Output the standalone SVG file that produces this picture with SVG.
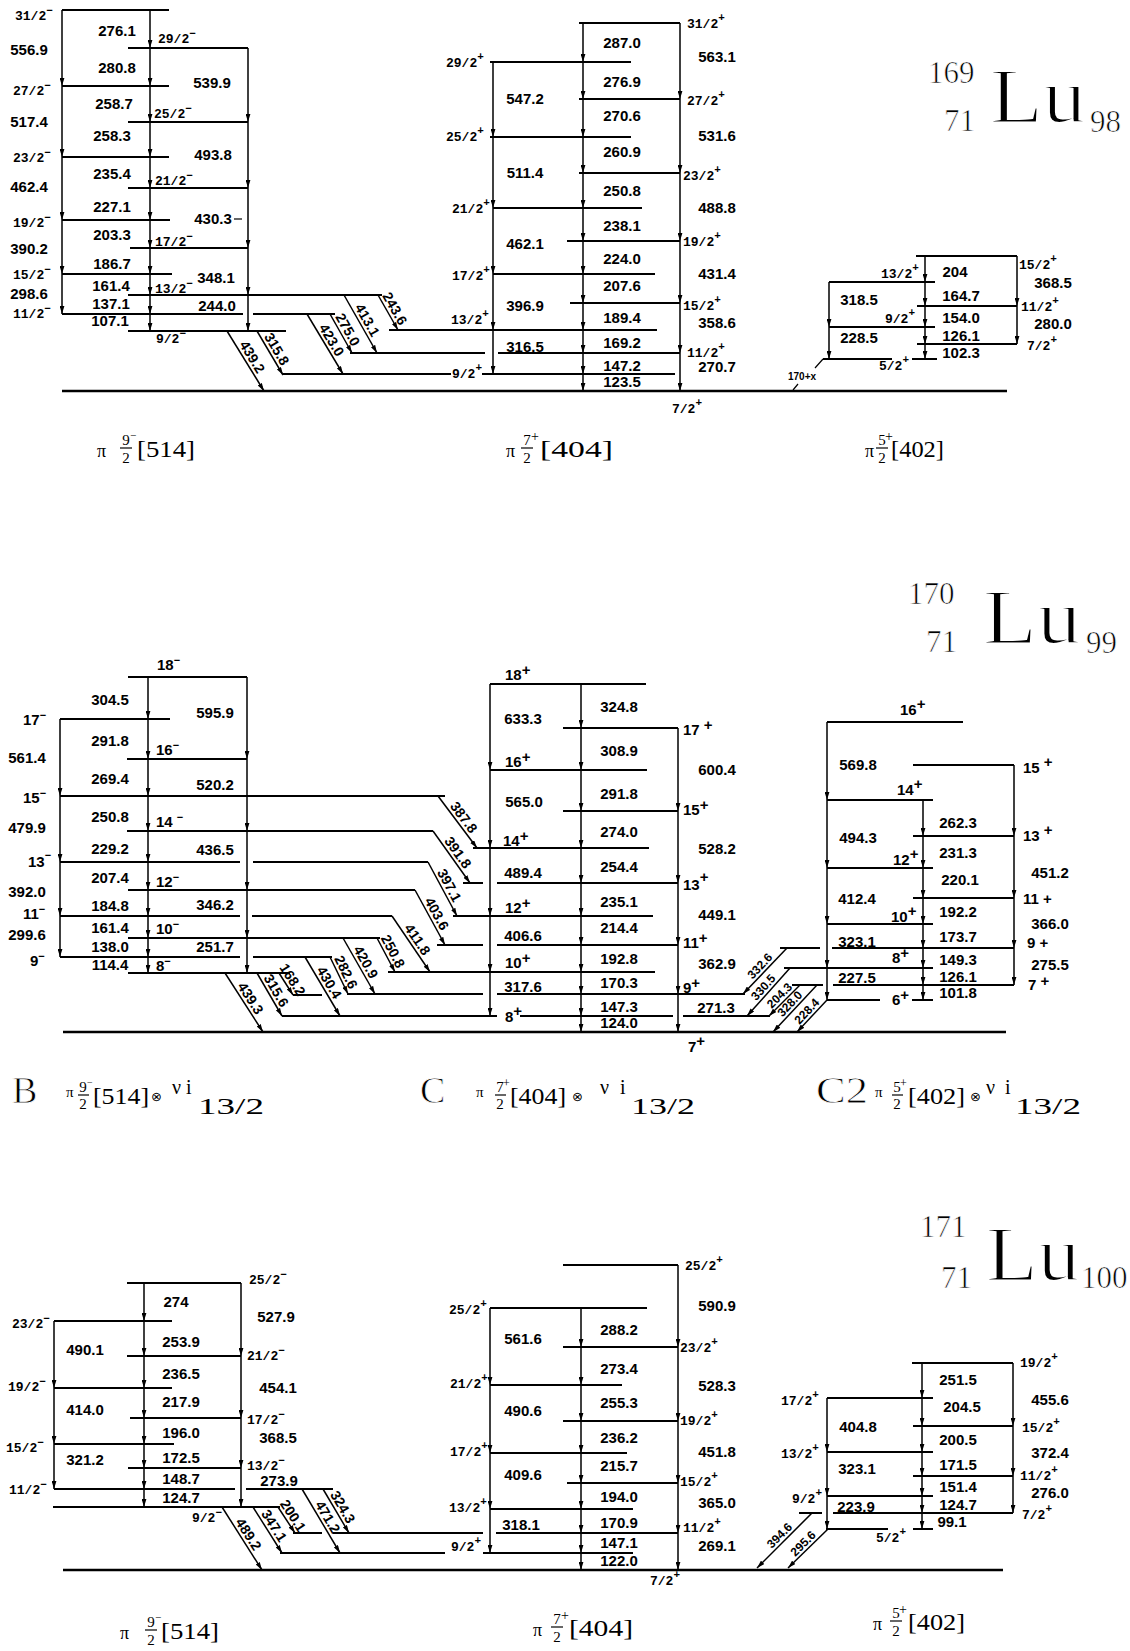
<svg xmlns="http://www.w3.org/2000/svg" width="1130" height="1651" viewBox="0 0 1130 1651">
<defs>
<marker id="ah" viewBox="0 0 10 6" refX="10" refY="3" markerUnits="userSpaceOnUse" markerWidth="8" markerHeight="5" orient="auto"><path d="M0 0L10 3L0 6z" fill="#000"/></marker>
<style>
.l{stroke:#000;stroke-width:2;fill:none}
.g{stroke:#000;stroke-width:2.4;fill:none}
.th{stroke:#000;stroke-width:1.2;fill:none}
.t{stroke:#000;stroke-width:1.5;fill:none;marker-mid:url(#ah);marker-end:url(#ah)}
.d{stroke:#000;stroke-width:1.5;fill:none;marker-end:url(#ah)}
text{font-family:"Liberation Sans",Arial,sans-serif;fill:#000}
.e{font-size:15px;font-weight:bold;text-anchor:middle}
.dl{font-size:14px;font-weight:bold;text-anchor:middle}
.ds{font-size:12px;font-weight:bold;text-anchor:middle}
.s{font-family:"Liberation Mono","Courier New",monospace;font-size:13px;font-weight:bold}
.m{font-size:15px;font-weight:bold}
.sp{font-size:11px}
.sr{font-family:"Liberation Serif","Times New Roman",serif}
.big{font-family:"Liberation Serif",serif;font-size:38px;stroke:#fff;stroke-width:0.8}
.nu{font-family:"Liberation Serif",serif;font-size:31px;stroke:#fff;stroke-width:0.7}
.lu{font-family:"Liberation Serif",serif;font-size:78px;stroke:#fff;stroke-width:1.8}
.fr{font-family:"Liberation Serif",serif;font-size:15px;text-anchor:middle}
.br{font-family:"Liberation Serif",serif;font-size:23px}
.ot{font-family:"DejaVu Sans",sans-serif;font-size:13px}
</style>
</defs>
<rect width="1130" height="1651" fill="#fff"/>

<!-- ===================== 169Lu ===================== -->
<g id="b169">
<path class="l" d="M62 10H169M128 48H248M62 86H169M128 122H248M62 157H169M128 188H248M62 220H170M130 248H248M62 274H172M128 295H382M62 314H243M253 314H335M128 331H286"/>
<text class="s" x="15" y="20">31/2<tspan class="sp" dy="-6">−</tspan></text>
<text class="s" x="158" y="43">29/2<tspan class="sp" dy="-6">−</tspan></text>
<text class="s" x="13" y="95">27/2<tspan class="sp" dy="-6">−</tspan></text>
<text class="s" x="154" y="118">25/2<tspan class="sp" dy="-6">−</tspan></text>
<text class="s" x="13" y="162">23/2<tspan class="sp" dy="-6">−</tspan></text>
<text class="s" x="155" y="185">21/2<tspan class="sp" dy="-6">−</tspan></text>
<text class="s" x="13" y="227">19/2<tspan class="sp" dy="-6">−</tspan></text>
<text class="s" x="155" y="246">17/2<tspan class="sp" dy="-6">−</tspan></text>
<text class="s" x="13" y="279">15/2<tspan class="sp" dy="-6">−</tspan></text>
<text class="s" x="155" y="293">13/2<tspan class="sp" dy="-6">−</tspan></text>
<text class="s" x="13" y="318">11/2<tspan class="sp" dy="-6">−</tspan></text>
<text class="s" x="156" y="343">9/2<tspan class="sp" dy="-6">−</tspan></text>
<text class="sr" x="97" y="457" font-size="18">π</text>
<text class="fr" x="126" y="445">9</text><path class="th" d="M120 448H132"/><text class="fr" x="126" y="463">2</text>
<text class="sr" x="130" y="439" font-size="11">−</text>
<text class="br" x="137" y="457" textLength="58" lengthAdjust="spacingAndGlyphs">[514]</text>
</g>

<g id="c169">
<path class="l" d="M579 23H680M490 62H631M579 99H680M490 137H631M579 173H680M493 208H642M567 241H680M493 274H655M570 303H680M389 330H657M350 353H485M498 353H680M283 374H451M482 374H675"/>
<path class="g" d="M62 391H1007"/>
<text class="s" x="687" y="28">31/2<tspan class="sp" dy="-7">+</tspan></text>
<text class="s" x="446" y="67">29/2<tspan class="sp" dy="-7">+</tspan></text>
<text class="s" x="687" y="105">27/2<tspan class="sp" dy="-7">+</tspan></text>
<text class="s" x="446" y="141">25/2<tspan class="sp" dy="-7">+</tspan></text>
<text class="s" x="683" y="180">23/2<tspan class="sp" dy="-7">+</tspan></text>
<text class="s" x="452" y="213">21/2<tspan class="sp" dy="-7">+</tspan></text>
<text class="s" x="683" y="246">19/2<tspan class="sp" dy="-7">+</tspan></text>
<text class="s" x="452" y="280">17/2<tspan class="sp" dy="-7">+</tspan></text>
<text class="s" x="683" y="310">15/2<tspan class="sp" dy="-7">+</tspan></text>
<text class="s" x="451" y="324">13/2<tspan class="sp" dy="-7">+</tspan></text>
<text class="s" x="687" y="357">11/2<tspan class="sp" dy="-7">+</tspan></text>
<text class="s" x="452" y="378">9/2<tspan class="sp" dy="-7">+</tspan></text>
<text class="s" x="672" y="413">7/2<tspan class="sp" dy="-7">+</tspan></text>
<text class="sr" x="506" y="457" font-size="18">π</text>
<text class="fr" x="527" y="445">7</text><path class="th" d="M521 448H533"/><text class="fr" x="527" y="463">2</text>
<text class="sr" x="531" y="441" font-size="14">+</text>
<text class="br" x="540" y="457" textLength="73" lengthAdjust="spacingAndGlyphs">[404]</text>
</g>

<g id="c169-402">
<path class="l" d="M916 256H1017M829 282H935M917 306H1017M829 327H935M917 344H1017M823 359H892M912 359H937"/>
<path class="th" d="M823 359L815 368M793 390L798 384"/>
<text class="s" x="1019" y="269">15/2<tspan class="sp" dy="-7">+</tspan></text>
<text class="s" x="881" y="278">13/2<tspan class="sp" dy="-7">+</tspan></text>
<text class="s" x="1021" y="311">11/2<tspan class="sp" dy="-7">+</tspan></text>
<text class="s" x="885" y="323">9/2<tspan class="sp" dy="-7">+</tspan></text>
<text class="s" x="1027" y="350">7/2<tspan class="sp" dy="-7">+</tspan></text>
<text class="s" x="879" y="370">5/2<tspan class="sp" dy="-7">+</tspan></text>
<text x="788" y="380" font-size="10" font-weight="bold">170+x</text>
<text class="sr" x="865" y="457" font-size="18">π</text>
<text class="fr" x="882" y="445">5</text><path class="th" d="M876 448H888"/><text class="fr" x="882" y="463">2</text>
<text class="sr" x="885" y="441" font-size="14">+</text>
<text class="br" x="891" y="457" textLength="53" lengthAdjust="spacingAndGlyphs">[402]</text>
</g>

<g id="n169">
<text class="nu" x="928" y="83">169</text>
<text class="nu" x="944" y="131">71</text>
<text class="lu" x="990" y="122" textLength="96" lengthAdjust="spacingAndGlyphs">Lu</text>
<text class="nu" x="1090" y="132">98</text>
</g>

<!-- ===================== 170Lu ===================== -->
<g id="b170">
<path class="l" d="M128 677H247M60 719H170M127 759H247M60 796H445M127 831H433M60 862H240M253 862H428M128 890H415M60 916H240M252 916H392M128 938H380M60 957H240M253 957H332M128 973H290"/>
<text class="m" x="157" y="670">18<tspan class="sp" dy="-6">−</tspan></text>
<text class="m" x="23" y="725">17<tspan class="sp" dy="-6">−</tspan></text>
<text class="m" x="156" y="755">16<tspan class="sp" dy="-6">−</tspan></text>
<text class="m" x="23" y="803">15<tspan class="sp" dy="-6">−</tspan></text>
<text class="m" x="156" y="827">14 <tspan class="sp" dy="-6">−</tspan></text>
<text class="m" x="28" y="867">13<tspan class="sp" dy="-8">−</tspan></text>
<text class="m" x="156" y="887">12<tspan class="sp" dy="-6">−</tspan></text>
<text class="m" x="23" y="919">11<tspan class="sp" dy="-6">−</tspan></text>
<text class="m" x="156" y="934">10<tspan class="sp" dy="-6">−</tspan></text>
<text class="m" x="30" y="966">9<tspan class="sp" dy="-6">−</tspan></text>
<text class="m" x="156" y="971">8<tspan class="sp" dy="-6">−</tspan></text>
</g>

<g id="c170">
<path class="l" d="M490 684H646M563 728H678M490 770H647M563 811H678M473 848H649M463 883H483M497 883H678M453 916H653M437 945H483M497 945H678M388 972H655M293 995H322M347 994H483M497 994H745M282 1016H497M520 1016H673M683 1016H770"/>
<path class="g" d="M63 1032H1006"/>
<text class="m" x="505" y="680">18<tspan dy="-5">+</tspan></text>
<text class="m" x="683" y="735">17 <tspan dy="-5">+</tspan></text>
<text class="m" x="505" y="767">16<tspan dy="-5">+</tspan></text>
<text class="m" x="683" y="815">15<tspan dy="-5">+</tspan></text>
<text class="m" x="503" y="846">14<tspan dy="-5">+</tspan></text>
<text class="m" x="683" y="890">13<tspan dy="-8">+</tspan></text>
<text class="m" x="505" y="913">12<tspan dy="-5">+</tspan></text>
<text class="m" x="683" y="948">11<tspan dy="-5">+</tspan></text>
<text class="m" x="505" y="968">10<tspan dy="-5">+</tspan></text>
<text class="m" x="683" y="993">9<tspan dy="-5">+</tspan></text>
<text class="m" x="505" y="1022">8<tspan dy="-6">+</tspan></text>
<text class="m" x="688" y="1052">7<tspan dy="-6">+</tspan></text>
</g>

<g id="c2-170">
<path class="l" d="M827 722H963M913 765H1014M827 800H933M913 836H1014M827 868H933M913 898H1014M827 924H933M780 948H820M832 948H1014M784 968H933M792 985H823M833 985H1014M827 1000H880M912 1000H933"/>
<text class="m" x="900" y="715">16<tspan dy="-6">+</tspan></text>
<text class="m" x="1023" y="773">15 <tspan dy="-6">+</tspan></text>
<text class="m" x="897" y="795">14<tspan dy="-6">+</tspan></text>
<text class="m" x="1023" y="841">13 <tspan dy="-6">+</tspan></text>
<text class="m" x="893" y="865">12<tspan dy="-6">+</tspan></text>
<text class="m" x="1023" y="904">11 +</text>
<text class="m" x="891" y="922">10<tspan dy="-6">+</tspan></text>
<text class="m" x="1027" y="948">9 +</text>
<text class="m" x="892" y="963">8<tspan dy="-5">+</tspan></text>
<text class="m" x="1028" y="990">7 <tspan dy="-4">+</tspan></text>
<text class="m" x="892" y="1005">6<tspan dy="-5">+</tspan></text>
</g>

<g id="n170">
<text class="nu" x="908" y="604">170</text>
<text class="nu" x="926" y="652">71</text>
<text class="lu" x="983" y="643" textLength="98" lengthAdjust="spacingAndGlyphs">Lu</text>
<text class="nu" x="1086" y="653">99</text>
</g>

<g id="labels170">
<text class="big" x="12" y="1103">B</text>
<text class="sr" x="66" y="1097" font-size="15">π</text>
<text class="fr" x="83" y="1092" font-size="13">9</text><path class="th" d="M78 1095H89"/><text class="fr" x="83" y="1109" font-size="13">2</text>
<text class="sr" x="87" y="1086" font-size="10">−</text>
<text class="br" x="93" y="1104" font-size="20" textLength="56" lengthAdjust="spacingAndGlyphs">[514]</text>
<text class="ot" x="151" y="1101">⊗</text>
<text class="sr" x="172" y="1094" font-size="20">ν</text>
<text class="sr" x="186" y="1094" font-size="20">i</text>
<text class="sr" x="198" y="1114" font-size="24" textLength="66" lengthAdjust="spacingAndGlyphs">13/2</text>

<text class="big" x="420" y="1103">C</text>
<text class="sr" x="476" y="1097" font-size="15">π</text>
<text class="fr" x="500" y="1092" font-size="13">7</text><path class="th" d="M495 1095H506"/><text class="fr" x="500" y="1109" font-size="13">2</text>
<text class="sr" x="503" y="1087" font-size="12">+</text>
<text class="br" x="510" y="1104" font-size="20" textLength="56" lengthAdjust="spacingAndGlyphs">[404]</text>
<text class="ot" x="572" y="1101">⊗</text>
<text class="sr" x="600" y="1094" font-size="20">ν</text>
<text class="sr" x="620" y="1094" font-size="20">i</text>
<text class="sr" x="631" y="1114" font-size="24" textLength="64" lengthAdjust="spacingAndGlyphs">13/2</text>

<text class="big" x="816" y="1103" textLength="52" lengthAdjust="spacingAndGlyphs">C2</text>
<text class="sr" x="875" y="1097" font-size="15">π</text>
<text class="fr" x="897" y="1092" font-size="13">5</text><path class="th" d="M892 1095H903"/><text class="fr" x="897" y="1109" font-size="13">2</text>
<text class="sr" x="900" y="1087" font-size="12">+</text>
<text class="br" x="908" y="1104" font-size="20" textLength="57" lengthAdjust="spacingAndGlyphs">[402]</text>
<text class="ot" x="970" y="1101">⊗</text>
<text class="sr" x="986" y="1094" font-size="20">ν</text>
<text class="sr" x="1005" y="1094" font-size="20">i</text>
<text class="sr" x="1015" y="1114" font-size="24" textLength="66" lengthAdjust="spacingAndGlyphs">13/2</text>
</g>

<!-- ===================== 171Lu ===================== -->
<g id="b171">
<path class="l" d="M127 1283H241M54 1321H172M127 1356H241M54 1388H172M130 1418H241M54 1444H174M128 1468H241M54 1489H235M246 1489H333M53 1507H280"/>
<text class="s" x="249" y="1284">25/2<tspan class="sp" dy="-6">−</tspan></text>
<text class="s" x="12" y="1328">23/2<tspan class="sp" dy="-6">−</tspan></text>
<text class="s" x="247" y="1360">21/2<tspan class="sp" dy="-6">−</tspan></text>
<text class="s" x="8" y="1391">19/2<tspan class="sp" dy="-6">−</tspan></text>
<text class="s" x="247" y="1424">17/2<tspan class="sp" dy="-6">−</tspan></text>
<text class="s" x="6" y="1452">15/2<tspan class="sp" dy="-6">−</tspan></text>
<text class="s" x="247" y="1470">13/2<tspan class="sp" dy="-6">−</tspan></text>
<text class="s" x="9" y="1494">11/2<tspan class="sp" dy="-6">−</tspan></text>
<text class="s" x="192" y="1522">9/2<tspan class="sp" dy="-6">−</tspan></text>
<text class="sr" x="120" y="1639" font-size="18">π</text>
<text class="fr" x="151" y="1627">9</text><path class="th" d="M145 1630H157"/><text class="fr" x="151" y="1645">2</text>
<text class="sr" x="155" y="1621" font-size="11">−</text>
<text class="br" x="161" y="1639" textLength="58" lengthAdjust="spacingAndGlyphs">[514]</text>
</g>

<g id="c171">
<path class="l" d="M563 1265H678M490 1308H647M563 1347H678M490 1385H622M563 1421H678M490 1453H627M567 1483H678M490 1509H633M293 1533H322M333 1533H483M496 1533H678M280 1553H445M483 1553H633"/>
<path class="g" d="M63 1570H1003"/>
<text class="s" x="685" y="1270">25/2<tspan class="sp" dy="-7">+</tspan></text>
<text class="s" x="449" y="1314">25/2<tspan class="sp" dy="-7">+</tspan></text>
<text class="s" x="680" y="1352">23/2<tspan class="sp" dy="-7">+</tspan></text>
<text class="s" x="450" y="1388">21/2<tspan class="sp" dy="-7">+</tspan></text>
<text class="s" x="680" y="1425">19/2<tspan class="sp" dy="-7">+</tspan></text>
<text class="s" x="450" y="1456">17/2<tspan class="sp" dy="-7">+</tspan></text>
<text class="s" x="680" y="1486">15/2<tspan class="sp" dy="-7">+</tspan></text>
<text class="s" x="449" y="1512">13/2<tspan class="sp" dy="-7">+</tspan></text>
<text class="s" x="683" y="1532">11/2<tspan class="sp" dy="-7">+</tspan></text>
<text class="s" x="451" y="1551">9/2<tspan class="sp" dy="-7">+</tspan></text>
<text class="s" x="650" y="1585">7/2<tspan class="sp" dy="-7">+</tspan></text>
<text class="sr" x="533" y="1636" font-size="18">π</text>
<text class="fr" x="557" y="1624">7</text><path class="th" d="M551 1627H563"/><text class="fr" x="557" y="1642">2</text>
<text class="sr" x="561" y="1620" font-size="14">+</text>
<text class="br" x="569" y="1636" textLength="64" lengthAdjust="spacingAndGlyphs">[404]</text>
</g>

<g id="c2-171">
<path class="l" d="M912 1363H1013M827 1398H933M913 1426H1013M827 1452H933M913 1476H1013M827 1496H933M799 1513H822M833 1513H1013M826 1529H888M913 1529H933"/>
<text class="s" x="1020" y="1367">19/2<tspan class="sp" dy="-7">+</tspan></text>
<text class="s" x="781" y="1405">17/2<tspan class="sp" dy="-7">+</tspan></text>
<text class="s" x="1022" y="1432">15/2<tspan class="sp" dy="-7">+</tspan></text>
<text class="s" x="781" y="1458">13/2<tspan class="sp" dy="-7">+</tspan></text>
<text class="s" x="1020" y="1480">11/2<tspan class="sp" dy="-7">+</tspan></text>
<text class="s" x="792" y="1503">9/2<tspan class="sp" dy="-7">+</tspan></text>
<text class="s" x="1022" y="1519">7/2<tspan class="sp" dy="-7">+</tspan></text>
<text class="s" x="876" y="1542">5/2<tspan class="sp" dy="-7">+</tspan></text>
<text class="sr" x="873" y="1630" font-size="18">π</text>
<text class="fr" x="896" y="1618">5</text><path class="th" d="M890 1621H902"/><text class="fr" x="896" y="1636">2</text>
<text class="sr" x="899" y="1614" font-size="14">+</text>
<text class="br" x="908" y="1630" textLength="57" lengthAdjust="spacingAndGlyphs">[402]</text>
</g>

<g id="n171">
<text class="nu" x="920" y="1237">171</text>
<text class="nu" x="941" y="1288">71</text>
<text class="lu" x="986" y="1280" textLength="94" lengthAdjust="spacingAndGlyphs">Lu</text>
<text class="nu" x="1081" y="1288">100</text>
</g>

<!-- ===================== connectors ===================== -->
<g id="connectors">
<!-- 169 -->
<path class="t" d="M62 10V86V157V220V274V314"/>
<path class="t" d="M150 10V48V86V122V157V188V220V248V274V295V314V331"/>
<path class="t" d="M248 48V122V188V248V295V331"/>
<path class="t" d="M493 62V137V208V274V330V374"/>
<path class="t" d="M583 23V62V99V137V173V208V241V274V303V330V353V374V391"/>
<path class="t" d="M680 23V99V173V241V303V353V391"/>
<path class="t" d="M829 282V327V359"/>
<path class="t" d="M925 256V282V306V327V344V359"/>
<path class="t" d="M1017 256V306V344"/>
<path class="d" d="M227 331L264 391"/>
<path class="d" d="M257 331L283 375"/>
<path class="d" d="M307 314L343 374"/>
<path class="d" d="M330 314L352 353"/>
<path class="d" d="M344 295L377 353"/>
<path class="d" d="M378 295L398 330"/>
<path class="th" d="M234 219H242"/>
<!-- 170 -->
<path class="t" d="M60 719V796V862V916V957"/>
<path class="t" d="M148 677V719V759V796V831V862V890V916V938V957V973"/>
<path class="t" d="M247 677V759V831V890V938V973"/>
<path class="t" d="M490 684V770V848V916V972V1016"/>
<path class="t" d="M581 684V728V770V811V848V883V916V945V972V994V1016V1032"/>
<path class="t" d="M678 728V811V883V945V994V1032"/>
<path class="t" d="M827 722V800V868V924V968V1000"/>
<path class="t" d="M923 800V836V868V898V924V948V968V985V1000"/>
<path class="t" d="M1014 765V836V898V948V985"/>
<path class="d" d="M438 796L477 848"/>
<path class="d" d="M433 831L470 883"/>
<path class="d" d="M428 862L457 916"/>
<path class="d" d="M415 890L445 945"/>
<path class="d" d="M392 916L430 972"/>
<path class="d" d="M377 938L395 972"/>
<path class="d" d="M343 938L375 994"/>
<path class="d" d="M330 957L348 994"/>
<path class="d" d="M305 957L340 1016"/>
<path class="d" d="M279 973L293 995"/>
<path class="d" d="M257 973L282 1016"/>
<path class="d" d="M225 973L263 1032"/>
<path class="d" d="M787 948L743 994"/>
<path class="d" d="M790 968L747 1016"/>
<path class="d" d="M800 985L769 1016"/>
<path class="d" d="M817 985L773 1032"/>
<path class="d" d="M827 1000L797 1032"/>
<!-- 171 -->
<path class="t" d="M54 1321V1388V1444V1489"/>
<path class="t" d="M144 1283V1321V1356V1388V1418V1444V1468V1489V1507"/>
<path class="t" d="M241 1283V1356V1418V1468V1507"/>
<path class="t" d="M490 1308V1385V1453V1509V1553"/>
<path class="t" d="M581 1308V1347V1385V1421V1453V1483V1509V1533V1553V1570"/>
<path class="t" d="M678 1265V1347V1421V1483V1533V1570"/>
<path class="t" d="M827 1398V1452V1496V1529"/>
<path class="t" d="M922 1363V1398V1426V1452V1476V1496V1513V1529"/>
<path class="t" d="M1013 1363V1426V1476V1513"/>
<path class="d" d="M323 1489L349 1533"/>
<path class="d" d="M302 1489L340 1553"/>
<path class="d" d="M278 1507L295 1533"/>
<path class="d" d="M253 1507L282 1553"/>
<path class="d" d="M222 1507L262 1570"/>
<path class="d" d="M812 1513L757 1568"/>
<path class="d" d="M828 1529L788 1568"/>
</g>

<g id="energies">
<!-- 169 B -->
<text class="e" x="29" y="55">556.9</text><text class="e" x="29" y="127">517.4</text><text class="e" x="29" y="192">462.4</text><text class="e" x="29" y="254">390.2</text><text class="e" x="29" y="299">298.6</text>
<text class="e" x="117" y="36">276.1</text><text class="e" x="117" y="73">280.8</text><text class="e" x="114" y="109">258.7</text><text class="e" x="112" y="141">258.3</text><text class="e" x="112" y="179">235.4</text><text class="e" x="112" y="212">227.1</text><text class="e" x="112" y="240">203.3</text><text class="e" x="112" y="269">186.7</text><text class="e" x="111" y="291">161.4</text><text class="e" x="111" y="309">137.1</text><text class="e" x="110" y="326">107.1</text>
<text class="e" x="212" y="88">539.9</text><text class="e" x="213" y="160">493.8</text><text class="e" x="213" y="224">430.3</text><text class="e" x="216" y="283">348.1</text><text class="e" x="217" y="311">244.0</text>
<!-- 169 C -->
<text class="e" x="622" y="48">287.0</text><text class="e" x="622" y="87">276.9</text><text class="e" x="622" y="121">270.6</text><text class="e" x="622" y="157">260.9</text><text class="e" x="622" y="196">250.8</text><text class="e" x="622" y="231">238.1</text><text class="e" x="622" y="264">224.0</text><text class="e" x="622" y="291">207.6</text><text class="e" x="622" y="323">189.4</text><text class="e" x="622" y="348">169.2</text><text class="e" x="622" y="371">147.2</text><text class="e" x="622" y="387">123.5</text>
<text class="e" x="525" y="104">547.2</text><text class="e" x="525" y="178">511.4</text><text class="e" x="525" y="249">462.1</text><text class="e" x="525" y="311">396.9</text><text class="e" x="525" y="352">316.5</text>
<text class="e" x="717" y="62">563.1</text><text class="e" x="717" y="141">531.6</text><text class="e" x="717" y="213">488.8</text><text class="e" x="717" y="279">431.4</text><text class="e" x="717" y="328">358.6</text><text class="e" x="717" y="372">270.7</text>
<!-- 169 402 -->
<text class="e" x="955" y="277">204</text><text class="e" x="961" y="301">164.7</text><text class="e" x="961" y="323">154.0</text><text class="e" x="961" y="341">126.1</text><text class="e" x="961" y="358">102.3</text>
<text class="e" x="859" y="305">318.5</text><text class="e" x="859" y="343">228.5</text>
<text class="e" x="1053" y="288">368.5</text><text class="e" x="1053" y="329">280.0</text>
<!-- 169 diagonals -->
<text class="dl" transform="rotate(58.3 248.1 359.4)" x="248.1" y="359.4">439.2</text>
<text class="dl" transform="rotate(59.4 272.6 351.5)" x="272.6" y="351.5">315.8</text>
<text class="dl" transform="rotate(59 327.6 342.5)" x="327.6" y="342.5">423.0</text>
<text class="dl" transform="rotate(60.6 343.6 332)" x="343.6" y="332">275.0</text>
<text class="dl" transform="rotate(60.4 363.1 322.5)" x="363.1" y="322.5">413.1</text>
<text class="dl" transform="rotate(60.3 390.6 311)" x="390.6" y="311">243.6</text>

<!-- 170 B -->
<text class="e" x="27" y="763">561.4</text><text class="e" x="27" y="833">479.9</text><text class="e" x="27" y="897">392.0</text><text class="e" x="27" y="940">299.6</text>
<text class="e" x="110" y="705">304.5</text><text class="e" x="110" y="746">291.8</text><text class="e" x="110" y="784">269.4</text><text class="e" x="110" y="822">250.8</text><text class="e" x="110" y="854">229.2</text><text class="e" x="110" y="883">207.4</text><text class="e" x="110" y="911">184.8</text><text class="e" x="110" y="933">161.4</text><text class="e" x="110" y="952">138.0</text><text class="e" x="110" y="970">114.4</text>
<text class="e" x="215" y="718">595.9</text><text class="e" x="215" y="790">520.2</text><text class="e" x="215" y="855">436.5</text><text class="e" x="215" y="910">346.2</text><text class="e" x="215" y="952">251.7</text>
<!-- 170 C -->
<text class="e" x="619" y="712">324.8</text><text class="e" x="619" y="756">308.9</text><text class="e" x="619" y="799">291.8</text><text class="e" x="619" y="837">274.0</text><text class="e" x="619" y="872">254.4</text><text class="e" x="619" y="907">235.1</text><text class="e" x="619" y="933">214.4</text><text class="e" x="619" y="964">192.8</text><text class="e" x="619" y="988">170.3</text><text class="e" x="619" y="1012">147.3</text><text class="e" x="619" y="1028">124.0</text>
<text class="e" x="523" y="724">633.3</text><text class="e" x="524" y="807">565.0</text><text class="e" x="523" y="878">489.4</text><text class="e" x="523" y="941">406.6</text><text class="e" x="523" y="992">317.6</text>
<text class="e" x="717" y="775">600.4</text><text class="e" x="717" y="854">528.2</text><text class="e" x="717" y="920">449.1</text><text class="e" x="717" y="969">362.9</text><text class="e" x="716" y="1013">271.3</text>
<!-- 170 C2 -->
<text class="e" x="858" y="770">569.8</text><text class="e" x="858" y="843">494.3</text><text class="e" x="857" y="904">412.4</text><text class="e" x="857" y="947">323.1</text><text class="e" x="857" y="983">227.5</text>
<text class="e" x="958" y="828">262.3</text><text class="e" x="958" y="858">231.3</text><text class="e" x="960" y="885">220.1</text><text class="e" x="958" y="917">192.2</text><text class="e" x="958" y="942">173.7</text><text class="e" x="958" y="965">149.3</text><text class="e" x="958" y="982">126.1</text><text class="e" x="958" y="998">101.8</text>
<text class="e" x="1050" y="878">451.2</text><text class="e" x="1050" y="929">366.0</text><text class="e" x="1050" y="970">275.5</text>
<!-- 170 diagonals -->
<text class="dl" transform="rotate(53.1 459.9 820.2)" x="459.9" y="820.2">387.8</text>
<text class="dl" transform="rotate(54.6 454 855.3)" x="454" y="855.3">391.8</text>
<text class="dl" transform="rotate(61.8 445.1 887.6)" x="445.1" y="887.6">397.1</text>
<text class="dl" transform="rotate(61.4 432.6 916.1)" x="432.6" y="916.1">403.6</text>
<text class="dl" transform="rotate(55.8 413.5 942.3)" x="413.5" y="942.3">411.8</text>
<text class="dl" transform="rotate(62.1 388.7 953.6)" x="388.7" y="953.6">250.8</text>
<text class="dl" transform="rotate(60.3 361.6 964.5)" x="361.6" y="964.5">420.9</text>
<text class="dl" transform="rotate(64.1 341.7 974.2)" x="341.7" y="974.2">282.6</text>
<text class="dl" transform="rotate(59.3 325.1 985)" x="325.1" y="985">430.4</text>
<text class="dl" transform="rotate(57.5 288.5 982.4)" x="288.5" y="982.4">168.2</text>
<text class="dl" transform="rotate(59.8 272.1 993)" x="272.1" y="993">315.6</text>
<text class="dl" transform="rotate(57.2 246.5 1000.9)" x="246.5" y="1000.9">439.3</text>
<text class="ds" transform="rotate(-46.3 762.8 968.9)" x="762.8" y="968.9">332.6</text>
<text class="ds" transform="rotate(-48.2 766.3 990)" x="766.3" y="990">330.5</text>
<text class="ds" transform="rotate(-45 782.4 998.4)" x="782.4" y="998.4">204.3</text>
<text class="ds" transform="rotate(-46.9 792.8 1006.5)" x="792.8" y="1006.5">328.0</text>
<text class="ds" transform="rotate(-46.8 809.8 1014)" x="809.8" y="1014">228.4</text>

<!-- 171 B -->
<text class="e" x="85" y="1355">490.1</text><text class="e" x="85" y="1415">414.0</text><text class="e" x="85" y="1465">321.2</text>
<text class="e" x="176" y="1307">274</text><text class="e" x="181" y="1347">253.9</text><text class="e" x="181" y="1379">236.5</text><text class="e" x="181" y="1407">217.9</text><text class="e" x="181" y="1438">196.0</text><text class="e" x="181" y="1463">172.5</text><text class="e" x="181" y="1484">148.7</text><text class="e" x="181" y="1503">124.7</text>
<text class="e" x="276" y="1322">527.9</text><text class="e" x="278" y="1393">454.1</text><text class="e" x="278" y="1443">368.5</text><text class="e" x="279" y="1486">273.9</text>
<!-- 171 C -->
<text class="e" x="619" y="1335">288.2</text><text class="e" x="619" y="1374">273.4</text><text class="e" x="619" y="1408">255.3</text><text class="e" x="619" y="1443">236.2</text><text class="e" x="619" y="1471">215.7</text><text class="e" x="619" y="1502">194.0</text><text class="e" x="619" y="1528">170.9</text><text class="e" x="619" y="1548">147.1</text><text class="e" x="619" y="1566">122.0</text>
<text class="e" x="523" y="1344">561.6</text><text class="e" x="523" y="1416">490.6</text><text class="e" x="523" y="1480">409.6</text><text class="e" x="521" y="1530">318.1</text>
<text class="e" x="717" y="1311">590.9</text><text class="e" x="717" y="1391">528.3</text><text class="e" x="717" y="1457">451.8</text><text class="e" x="717" y="1508">365.0</text><text class="e" x="717" y="1551">269.1</text>
<!-- 171 C2 -->
<text class="e" x="958" y="1385">251.5</text><text class="e" x="962" y="1412">204.5</text><text class="e" x="958" y="1445">200.5</text><text class="e" x="958" y="1470">171.5</text><text class="e" x="958" y="1492">151.4</text><text class="e" x="958" y="1510">124.7</text><text class="e" x="952" y="1527">99.1</text>
<text class="e" x="858" y="1432">404.8</text><text class="e" x="857" y="1474">323.1</text><text class="e" x="856" y="1512">223.9</text>
<text class="e" x="1050" y="1405">455.6</text><text class="e" x="1050" y="1458">372.4</text><text class="e" x="1050" y="1498">276.0</text>
<!-- 171 diagonals -->
<text class="dl" transform="rotate(59.4 338.6 1509.5)" x="338.6" y="1509.5">324.3</text>
<text class="dl" transform="rotate(59.3 323.6 1519.5)" x="323.6" y="1519.5">471.2</text>
<text class="dl" transform="rotate(56.8 289 1518.4)" x="289" y="1518.4">200.1</text>
<text class="dl" transform="rotate(57.8 270 1528.4)" x="270" y="1528.4">347.1</text>
<text class="dl" transform="rotate(57.6 244.5 1536.9)" x="244.5" y="1536.9">489.2</text>
<text class="ds" transform="rotate(-45 782.4 1538.4)" x="782.4" y="1538.4">394.6</text>
<text class="ds" transform="rotate(-44.3 805.9 1546.4)" x="805.9" y="1546.4">295.6</text>
</g>
</svg>
